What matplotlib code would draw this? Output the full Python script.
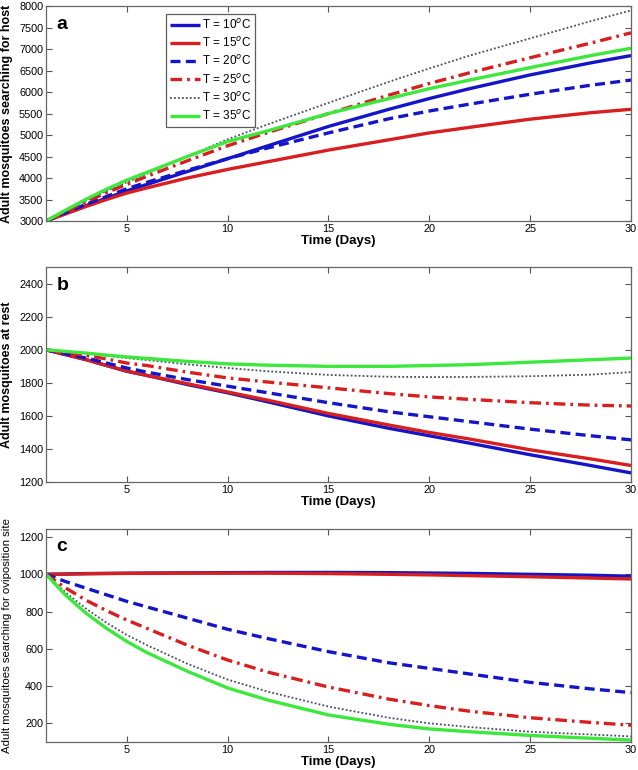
import matplotlib
matplotlib.use("Agg")
import matplotlib.pyplot as plt
from matplotlib.ticker import FixedLocator

days = [1, 2, 3, 4, 5, 6, 8, 10, 12, 15, 18, 20, 22, 25, 28, 30]
labels = ["T = 10$^{o}$C", "T = 15$^{o}$C", "T = 20$^{o}$C",
          "T = 25$^{o}$C", "T = 30$^{o}$C", "T = 35$^{o}$C"]

# Panel a: adults searching for host
host_10 = [3000, 3180, 3360, 3530, 3700, 3850, 4150, 4450, 4750, 5200, 5600, 5850, 6080, 6400, 6680, 6850]
host_15 = [3000, 3170, 3340, 3500, 3650, 3770, 4000, 4200, 4380, 4650, 4890, 5050, 5180, 5370, 5520, 5600]
host_20 = [3000, 3200, 3390, 3570, 3750, 3900, 4180, 4450, 4700, 5050, 5380, 5560, 5720, 5950, 6160, 6280]
host_25 = [3000, 3230, 3450, 3660, 3850, 4040, 4400, 4750, 5060, 5500, 5930, 6200, 6450, 6800, 7140, 7380]
host_30 = [3000, 3240, 3480, 3700, 3900, 4100, 4500, 4900, 5250, 5750, 6240, 6550, 6850, 7250, 7650, 7900]
host_35 = [3000, 3260, 3510, 3740, 3950, 4130, 4500, 4850, 5100, 5500, 5850, 6080, 6280, 6570, 6850, 7020]

# Panel b: adults at rest
rest_10 = [2000, 1970, 1940, 1905, 1870, 1845, 1790, 1740, 1685, 1600, 1525, 1480, 1435, 1365, 1300, 1255]
rest_15 = [2000, 1970, 1940, 1905, 1872, 1845, 1795, 1745, 1695, 1615, 1545, 1500, 1460, 1395, 1340, 1300]
rest_20 = [2000, 1975, 1950, 1920, 1890, 1865, 1820, 1780, 1740, 1680, 1625, 1595, 1565, 1520, 1480, 1455]
rest_25 = [2000, 1985, 1965, 1945, 1920, 1905, 1865, 1830, 1805, 1770, 1735, 1715, 1700, 1680, 1665, 1660]
rest_30 = [2000, 1990, 1978, 1965, 1950, 1938, 1912, 1890, 1870, 1848, 1837, 1835, 1836, 1840, 1850, 1865]
rest_35 = [2000, 1990, 1980, 1968, 1957, 1948, 1930, 1915, 1907, 1900, 1900, 1905, 1910, 1925, 1940, 1950]

# Panel c: adults searching for oviposition site
ovi_10 = [1000, 1002, 1004, 1005, 1006, 1007, 1008, 1009, 1010, 1010, 1009, 1007, 1005, 1000, 995, 990]
ovi_15 = [1000, 1001, 1003, 1004, 1005, 1005, 1006, 1006, 1006, 1004, 1000, 997, 993, 987, 980, 975]
ovi_20 = [1000, 960, 925, 890, 855, 825, 765, 705, 655, 585, 525, 495, 465, 420, 385, 365]
ovi_25 = [1000, 925, 860, 805, 755, 710, 620, 540, 475, 395, 330, 295, 265, 230, 205, 190]
ovi_30 = [1000, 900, 815, 740, 675, 620, 520, 435, 370, 290, 230, 200, 180, 155, 140, 130]
ovi_35 = [1000, 885, 790, 710, 640, 580, 480, 390, 325, 245, 195, 170, 155, 135, 120, 110]

BLUE = "#1414c8"
RED = "#d81e1e"
GREEN = "#3ce83c"
GRAY = "#4a4a66"
styles = [
    dict(color=BLUE, ls="-", lw=2.4),
    dict(color=RED, ls="-", lw=2.4),
    dict(color=BLUE, ls=(0, (3, 1.6)), lw=2.4),
    dict(color=RED, ls=(0, (3.5, 1.5, 0.8, 1.5)), lw=2.4),
    dict(color=GRAY, ls=(0, (1, 1.2)), lw=1.3),
    dict(color=GREEN, ls="-", lw=2.4),
]

fig = plt.figure(figsize=(6.38, 7.7), dpi=100)

panels = [
    dict(pos=[0.0721, 0.713, 0.917, 0.279], data=[host_10, host_15, host_20, host_25, host_30, host_35],
         ylim=(3000, 8000), yticks=list(range(3000, 8001, 500)), letter="a",
         ylabel="Adult mosquitoes searching for host", ybold=True, ysize=9),
    dict(pos=[0.0721, 0.374, 0.917, 0.279], data=[rest_10, rest_15, rest_20, rest_25, rest_30, rest_35],
         ylim=(1200, 2500), yticks=list(range(1200, 2401, 200)), letter="b",
         ylabel="Adult mosquitoes at rest", ybold=True, ysize=9),
    dict(pos=[0.0721, 0.0364, 0.917, 0.277], data=[ovi_10, ovi_15, ovi_20, ovi_25, ovi_30, ovi_35],
         ylim=(100, 1245), yticks=list(range(200, 1201, 200)), letter="c",
         ylabel="Adult mosquitoes searching for oviposition site", ybold=False, ysize=8.2),
]

for i, p in enumerate(panels):
    ax = fig.add_axes(p["pos"])
    for series, st, lab in zip(p["data"], styles, labels):
        ax.plot(days, series, label=lab, solid_capstyle="butt", dash_capstyle="butt", **st)
    ax.set_xlim(1, 30)
    ax.set_ylim(*p["ylim"])
    ax.xaxis.set_major_locator(FixedLocator([5, 10, 15, 20, 25, 30]))
    ax.yaxis.set_major_locator(FixedLocator(p["yticks"]))
    ax.tick_params(direction="in", top=True, right=True, length=4, width=0.8,
                   color="#555555", labelsize=7.8, pad=2)
    for lbl in ax.get_xticklabels() + ax.get_yticklabels():
        lbl.set_family("Liberation Sans")
    for s in ax.spines.values():
        s.set_color("#666666")
        s.set_linewidth(0.9)
    ax.set_xlabel("Time (Days)", fontsize=9.5, fontweight="bold", family="Liberation Sans", labelpad=1)
    ax.set_ylabel(p["ylabel"], fontsize=p["ysize"], fontweight="bold" if p["ybold"] else "normal",
                  family="Liberation Sans", va="center")
    ax.yaxis.set_label_coords(-0.066, 0.5)
    ax.text(0.018, 0.955, p["letter"], transform=ax.transAxes, fontsize=14, fontweight="bold",
            family="Liberation Sans", va="top", ha="left")
    if i == 0:
        leg = ax.legend(loc="upper left", bbox_to_anchor=(0.205, 0.965), frameon=True, fancybox=False,
                        edgecolor="#333333", handlelength=2.5, handletextpad=0.2,
                        labelspacing=0.36, borderpad=0.35, borderaxespad=0,
                        prop=dict(family="Liberation Sans", size=8.5))
        leg.get_frame().set_linewidth(0.9)

fig.savefig("out.png", dpi=100)
